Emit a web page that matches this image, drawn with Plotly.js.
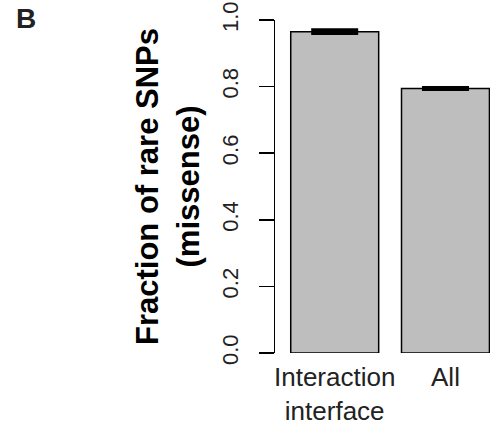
<!DOCTYPE html>
<html>
<head>
<meta charset="utf-8">
<script src="https://cdn.plot.ly/plotly-3.0.1.min.js"></script>
<style>html,body{margin:0;padding:0;background:#fff;}#chart{width:490px;height:435px;}</style>
</head>
<body>
<div id="chart"></div>
<script>
var categories = ["Interaction<br>interface", "All"];
var fractions = [0.965, 0.794];
var errors = [0.004, 0.0015];
var yTickVals = [0, 0.2, 0.4, 0.6, 0.8, 1.0];
var yTickText = ["0.0", "0.2", "0.4", "0.6", "0.8", "1.0"];

var FONT = "Liberation Sans, Arial, Helvetica, sans-serif";

var trace = {
  type: "bar",
  x: categories,
  y: fractions,
  width: 0.794,
  marker: {color: "#bebebe", line: {color: "#000", width: 1.5}},
  error_y: {type: "data", array: errors, visible: true, color: "#000", thickness: 4, width: 23.5},
  hoverinfo: "x+y"
};

var layout = {
  width: 490, height: 435,
  margin: {l: 275, r: 0, t: 20, b: 82, pad: 0},
  paper_bgcolor: "#fff", plot_bgcolor: "#fff",
  showlegend: false,
  font: {family: FONT, color: "#222"},
  xaxis: {
    type: "category",
    range: [-0.539, 1.402],
    showline: false, showgrid: false, zeroline: false,
    ticks: "",
    tickfont: {size: 26, family: FONT, color: "#222"},
    ticklabelstandoff: 6
  },
  yaxis: {
    range: [0, 1],
    tickvals: yTickVals, ticktext: yTickText,
    tickangle: -90,
    ticks: "outside", ticklen: 15, tickwidth: 1.5, tickcolor: "#000",
    showline: true, linewidth: 1.5, linecolor: "#000",
    showgrid: false, zeroline: false,
    tickfont: {size: 22, family: FONT, color: "#222"},
    ticklabelstandoff: 12,
    title: {
      text: "Fraction of rare SNPs<br>(missense)",
      font: {size: 31, family: FONT, weight: "bold", color: "#000"},
      standoff: 9
    }
  },
  annotations: [{
    text: "B", xref: "paper", yref: "paper",
    x: -1.215, y: 1.058, xanchor: "left", yanchor: "top",
    showarrow: false,
    font: {size: 28, family: FONT, weight: "bold", color: "#222"}
  }]
};

Plotly.newPlot("chart", [trace], layout, {displayModeBar: false, staticPlot: true});
</script>
</body>
</html>
